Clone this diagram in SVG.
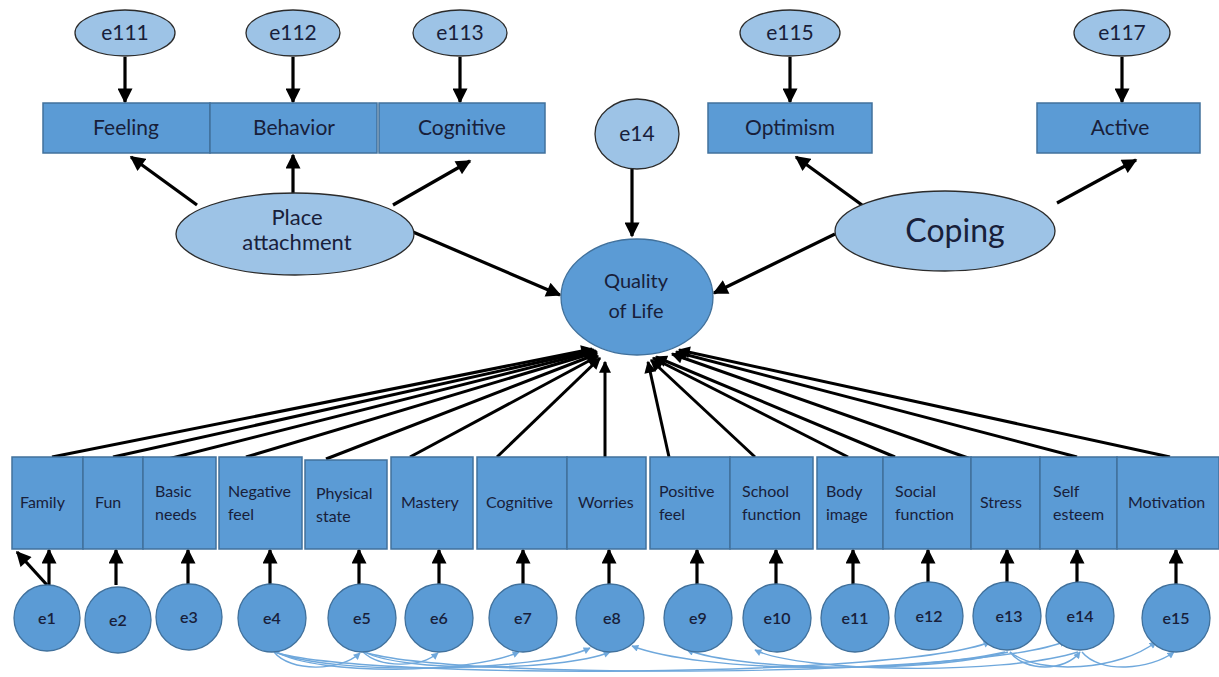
<svg xmlns="http://www.w3.org/2000/svg" width="1219" height="677" viewBox="0 0 1219 677">
<defs>
<style>
.lat{fill:#9dc3e6;stroke:#2b2b2b;stroke-width:1.3}
.box{fill:#5b9bd5;stroke:#41719c;stroke-width:1.5}
.err{fill:#5b9bd5;stroke:#41719c;stroke-width:1.3}
.t{font-family:Lato,"Liberation Sans",sans-serif;fill:#18203a}
.tl{font-size:21px;text-anchor:middle}
.ts{font-size:16px}
.te{font-size:16px;text-anchor:middle;font-weight:600}
.a{stroke:#000;stroke-width:3.2;fill:none;marker-end:url(#ah)}
.b{stroke:#000;stroke-width:3;fill:none;marker-end:url(#ah2)}
.c{stroke:#6fa8dc;stroke-width:1.4;fill:none;marker-end:url(#ab)}
</style>
<marker id="ah" viewBox="0 0 10 10" refX="9" refY="5" markerWidth="16" markerHeight="15" markerUnits="userSpaceOnUse" orient="auto"><path d="M0,0 L10,5 L0,10 z" fill="#000"/></marker>
<marker id="ah2" viewBox="0 0 10 10" refX="9" refY="5" markerWidth="13" markerHeight="12" markerUnits="userSpaceOnUse" orient="auto"><path d="M0,0 L10,5 L0,10 z" fill="#000"/></marker>
<marker id="ab" viewBox="0 0 10 10" refX="9" refY="5" markerWidth="8" markerHeight="7" markerUnits="userSpaceOnUse" orient="auto"><path d="M0,0 L10,5 L0,10 z" fill="#6fa8dc"/></marker>
</defs>
<rect width="1219" height="677" fill="#fff"/>

<g id="connectors">
<line class="a" x1="125" y1="57" x2="125" y2="102"/>
<line class="a" x1="293" y1="57" x2="293" y2="102"/>
<line class="a" x1="460" y1="57" x2="460" y2="102"/>
<line class="a" x1="790" y1="57" x2="790" y2="102"/>
<line class="a" x1="1122" y1="57" x2="1122" y2="102"/>
<line class="a" x1="632" y1="168" x2="632" y2="236"/>
<line class="a" x1="197" y1="205" x2="131" y2="157"/>
<line class="a" x1="293" y1="193" x2="293" y2="155"/>
<line class="a" x1="393" y1="205" x2="470" y2="161"/>
<line class="a" x1="413" y1="232" x2="560" y2="295"/>
<line class="a" x1="862" y1="205" x2="796" y2="157"/>
<line class="a" x1="1057" y1="203" x2="1136" y2="160"/>
<line class="a" x1="835" y1="234" x2="714" y2="293"/>
<line class="b" x1="52" y1="457" x2="592" y2="349"/>
<line class="b" x1="113" y1="457" x2="594" y2="350"/>
<line class="b" x1="168" y1="459" x2="596" y2="351"/>
<line class="b" x1="246" y1="457" x2="597" y2="352"/>
<line class="b" x1="326" y1="459" x2="597" y2="354"/>
<line class="b" x1="410" y1="457" x2="598" y2="356"/>
<line class="b" x1="497" y1="457" x2="600" y2="358"/>
<line class="b" x1="605" y1="457" x2="605" y2="362"/>
<line class="b" x1="669" y1="457" x2="648" y2="362"/>
<line class="b" x1="755" y1="457" x2="651" y2="360"/>
<line class="b" x1="848" y1="457" x2="653" y2="358"/>
<line class="b" x1="895" y1="457" x2="656" y2="357"/>
<line class="b" x1="971" y1="459" x2="672" y2="354"/>
<line class="b" x1="1077" y1="457" x2="676" y2="352"/>
<line class="b" x1="1170" y1="457" x2="679" y2="350"/>
<line class="a" x1="47" y1="585" x2="17" y2="552"/>
<line class="a" x1="49" y1="585" x2="49" y2="550"/>
<line class="a" x1="116" y1="585" x2="116" y2="550"/>
<line class="a" x1="188" y1="585" x2="188" y2="550"/>
<line class="a" x1="270" y1="585" x2="270" y2="550"/>
<line class="a" x1="359" y1="585" x2="359" y2="550"/>
<line class="a" x1="439" y1="585" x2="439" y2="550"/>
<line class="a" x1="523" y1="585" x2="523" y2="550"/>
<line class="a" x1="609" y1="585" x2="609" y2="550"/>
<line class="a" x1="697" y1="585" x2="697" y2="550"/>
<line class="a" x1="776" y1="585" x2="776" y2="550"/>
<line class="a" x1="853" y1="585" x2="853" y2="550"/>
<line class="a" x1="928" y1="585" x2="928" y2="550"/>
<line class="a" x1="1007" y1="585" x2="1007" y2="550"/>
<line class="a" x1="1077" y1="585" x2="1077" y2="550"/>
<line class="a" x1="1176" y1="585" x2="1176" y2="550"/>
<path class="c" d="M274,652 C290,672 340,672 360,653"/>
<path class="c" d="M276,652 C320,676 470,674 519,652"/>
<path class="c" d="M276,652 C330,676 540,672 590,648"/>
<path class="c" d="M363,652 C380,668 420,668 438,653"/>
<path class="c" d="M365,652 C400,672 560,672 610,652"/>
<path class="c" d="M274,652 C360,680 900,678 990,642"/>
<path class="c" d="M364,652 C450,680 980,678 1066,641"/>
<path class="c" d="M1005,652 C900,675 700,672 632,646"/>
<path class="c" d="M1008,652 C920,675 740,670 687,650"/>
<path class="c" d="M1078,652 C1000,676 800,672 755,650"/>
<path class="c" d="M1010,652 C1025,672 1065,672 1080,652"/>
<path class="c" d="M1010,652 C1040,676 1120,670 1156,642"/>
<path class="c" d="M1082,652 C1100,674 1150,670 1174,652"/>
</g>

<g id="e111"><ellipse class="lat" cx="125" cy="33" rx="50" ry="23"/><text class="t tl" x="125" y="40">e111</text></g>
<g id="e112"><ellipse class="lat" cx="293" cy="33" rx="47" ry="23"/><text class="t tl" x="293" y="40">e112</text></g>
<g id="e113"><ellipse class="lat" cx="460" cy="33" rx="47" ry="23"/><text class="t tl" x="460" y="40">e113</text></g>
<g id="e115"><ellipse class="lat" cx="790" cy="33" rx="50" ry="23"/><text class="t tl" x="790" y="40">e115</text></g>
<g id="e117"><ellipse class="lat" cx="1122" cy="33" rx="48" ry="23"/><text class="t tl" x="1122" y="40">e117</text></g>
<g id="e14top"><ellipse class="lat" cx="637" cy="134" rx="42" ry="35"/><text class="t tl" x="637" y="141">e14</text></g>

<g id="feeling"><rect class="box" x="43" y="103" width="167" height="50"/><text class="t tl" x="126" y="135">Feeling</text></g>
<g id="behavior"><rect class="box" x="210" y="103" width="167" height="50"/><text class="t tl" x="294" y="135">Behavior</text></g>
<g id="cognitive-top"><rect class="box" x="379" y="103" width="166" height="50"/><text class="t tl" x="462" y="135">Cognitive</text></g>
<g id="optimism"><rect class="box" x="708" y="103" width="164" height="50"/><text class="t tl" x="790" y="135">Optimism</text></g>
<g id="active"><rect class="box" x="1037" y="103" width="163" height="50"/><text class="t tl" x="1120" y="135">Active</text></g>

<g id="place"><ellipse class="lat" cx="295" cy="234" rx="119" ry="41"/><text class="t" font-size="22" text-anchor="middle" x="297" y="225">Place</text><text class="t" font-size="22" text-anchor="middle" x="297" y="250">attachment</text></g>
<g id="coping"><ellipse class="lat" cx="945" cy="231" rx="110" ry="40"/><text class="t" x="955" y="242" font-size="32" text-anchor="middle">Coping</text></g>
<g id="qol"><ellipse class="err" cx="637" cy="297" rx="76" ry="58"/><text class="t" x="636" y="288" font-size="20" text-anchor="middle">Quality</text><text class="t" x="636" y="318" font-size="20" text-anchor="middle">of Life</text></g>

<g id="family"><rect class="box" x="12" y="457" width="71" height="92"/><text class="t ts" x="20" y="508">Family</text></g>
<g id="fun"><rect class="box" x="83" y="457" width="60" height="92"/><text class="t ts" x="95" y="508">Fun</text></g>
<g id="basic"><rect class="box" x="143" y="457" width="73" height="92"/><text class="t ts" x="155" y="497">Basic</text><text class="t ts" x="155" y="520">needs</text></g>
<g id="negfeel"><rect class="box" x="219" y="457" width="83" height="92"/><text class="t ts" x="228" y="497">Negative</text><text class="t ts" x="228" y="520">feel</text></g>
<g id="physical"><rect class="box" x="305" y="460" width="82" height="89"/><text class="t ts" x="316" y="499">Physical</text><text class="t ts" x="316" y="522">state</text></g>
<g id="mastery"><rect class="box" x="391" y="457" width="82" height="92"/><text class="t ts" x="401" y="508">Mastery</text></g>
<g id="cognitive"><rect class="box" x="477" y="457" width="90" height="92"/><text class="t ts" x="486" y="508">Cognitive</text></g>
<g id="worries"><rect class="box" x="567" y="457" width="79" height="92"/><text class="t ts" x="578" y="508">Worries</text></g>
<g id="posfeel"><rect class="box" x="650" y="457" width="80" height="92"/><text class="t ts" x="659" y="497">Positive</text><text class="t ts" x="659" y="520">feel</text></g>
<g id="school"><rect class="box" x="730" y="457" width="83" height="92"/><text class="t ts" x="742" y="497">School</text><text class="t ts" x="742" y="520">function</text></g>
<g id="body"><rect class="box" x="817" y="457" width="66" height="92"/><text class="t ts" x="826" y="497">Body</text><text class="t ts" x="826" y="520">image</text></g>
<g id="social"><rect class="box" x="883" y="457" width="88" height="92"/><text class="t ts" x="895" y="497">Social</text><text class="t ts" x="895" y="520">function</text></g>
<g id="stress"><rect class="box" x="971" y="457" width="69" height="92"/><text class="t ts" x="980" y="508">Stress</text></g>
<g id="selfesteem"><rect class="box" x="1040" y="457" width="77" height="92"/><text class="t ts" x="1053" y="497">Self</text><text class="t ts" x="1053" y="520">esteem</text></g>
<g id="motivation"><rect class="box" x="1117" y="457" width="102" height="92"/><text class="t ts" x="1128" y="508">Motivation</text></g>

<g id="e1"><circle class="err" cx="47" cy="618" r="33"/><text class="t te" x="47" y="624">e1</text></g>
<g id="e2"><circle class="err" cx="118" cy="620" r="33"/><text class="t te" x="118" y="626">e2</text></g>
<g id="e3"><circle class="err" cx="189" cy="617" r="33"/><text class="t te" x="189" y="623">e3</text></g>
<g id="e4"><circle class="err" cx="272" cy="618" r="34"/><text class="t te" x="272" y="624">e4</text></g>
<g id="e5"><circle class="err" cx="362" cy="618" r="34"/><text class="t te" x="362" y="624">e5</text></g>
<g id="e6"><circle class="err" cx="439" cy="618" r="34"/><text class="t te" x="439" y="624">e6</text></g>
<g id="e7"><circle class="err" cx="523" cy="618" r="34"/><text class="t te" x="523" y="624">e7</text></g>
<g id="e8"><circle class="err" cx="610" cy="618" r="34"/><text class="t te" x="612" y="624">e8</text></g>
<g id="e9"><circle class="err" cx="698" cy="618" r="34"/><text class="t te" x="698" y="624">e9</text></g>
<g id="e10"><circle class="err" cx="777" cy="618" r="34"/><text class="t te" x="777" y="624">e10</text></g>
<g id="e11"><circle class="err" cx="855" cy="618" r="34"/><text class="t te" x="855" y="624">e11</text></g>
<g id="e12"><circle class="err" cx="929" cy="616" r="34"/><text class="t te" x="929" y="622">e12</text></g>
<g id="e13"><circle class="err" cx="1007" cy="616" r="34"/><text class="t te" x="1009" y="622">e13</text></g>
<g id="e14"><circle class="err" cx="1080" cy="616" r="34"/><text class="t te" x="1080" y="622">e14</text></g>
<g id="e15"><circle class="err" cx="1176" cy="618" r="34"/><text class="t te" x="1176" y="624">e15</text></g>
</svg>
